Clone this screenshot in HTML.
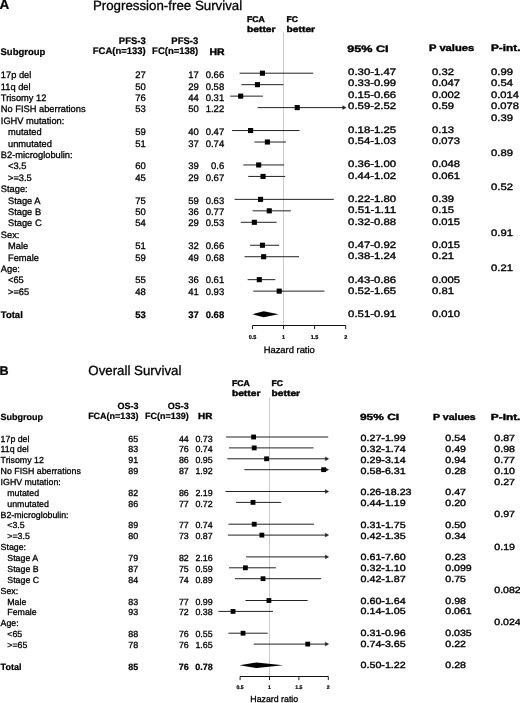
<!DOCTYPE html>
<html><head><meta charset="utf-8"><style>
html,body{margin:0;padding:0;background:#fff;}
body{width:520px;height:703px;overflow:hidden;}
svg{display:block;will-change:transform;}
text{font-family:"Liberation Sans", sans-serif;fill:#000;stroke:#000;stroke-width:0.3px;}
text.v{stroke-width:0.35px;}
text[font-weight="bold"]{stroke-width:0.22px;}
text.vb{stroke-width:0.4px;}
</style></head><body>
<svg width="520" height="703" viewBox="0 0 520 703" text-rendering="geometricPrecision">
<rect width="520" height="703" fill="#fff"/>
<line x1="283.5" y1="32.3" x2="283.5" y2="325.5" stroke="#cccccc" stroke-width="1"/>
<text x="0.80" y="78.20" font-size="9.3">17p del</text>
<text x="145.90" y="78.20" font-size="9.5" text-anchor="end">27</text>
<text x="198.80" y="78.20" font-size="9.5" text-anchor="end">17</text>
<text x="224.20" y="78.20" font-size="9.5" text-anchor="end">0.66</text>
<text x="348.10" y="74.80" font-size="9.4" class="v" textLength="47.99" lengthAdjust="spacingAndGlyphs">0.30-1.47</text>
<text x="432.00" y="74.80" font-size="9.4" class="v" textLength="21.91" lengthAdjust="spacingAndGlyphs">0.32</text>
<text x="491.00" y="74.80" font-size="9.4" class="v" textLength="21.91" lengthAdjust="spacingAndGlyphs">0.99</text>
<line x1="240.05" y1="73.20" x2="312.76" y2="73.20" stroke="#222" stroke-width="1.0" stroke-linecap="square"/>
<rect x="259.87" y="70.65" width="5.1" height="5.1" fill="#000"/>
<text x="0.80" y="89.60" font-size="9.3">11q del</text>
<text x="145.90" y="89.60" font-size="9.5" text-anchor="end">50</text>
<text x="198.80" y="89.60" font-size="9.5" text-anchor="end">29</text>
<text x="224.20" y="89.60" font-size="9.5" text-anchor="end">0.58</text>
<text x="348.10" y="86.34" font-size="9.4" class="v" textLength="47.99" lengthAdjust="spacingAndGlyphs">0.33-0.99</text>
<text x="432.00" y="86.34" font-size="9.4" class="v" textLength="28.05" lengthAdjust="spacingAndGlyphs">0.047</text>
<text x="491.00" y="86.34" font-size="9.4" class="v" textLength="21.91" lengthAdjust="spacingAndGlyphs">0.54</text>
<line x1="241.91" y1="84.67" x2="282.93" y2="84.67" stroke="#222" stroke-width="1.0" stroke-linecap="square"/>
<rect x="254.90" y="82.12" width="5.1" height="5.1" fill="#000"/>
<text x="0.80" y="101.00" font-size="9.3">Trisomy 12</text>
<text x="145.90" y="101.00" font-size="9.5" text-anchor="end">76</text>
<text x="198.80" y="101.00" font-size="9.5" text-anchor="end">44</text>
<text x="224.20" y="101.00" font-size="9.5" text-anchor="end">0.31</text>
<text x="348.10" y="97.88" font-size="9.4" class="v" textLength="47.99" lengthAdjust="spacingAndGlyphs">0.15-0.66</text>
<text x="432.00" y="97.88" font-size="9.4" class="v" textLength="28.05" lengthAdjust="spacingAndGlyphs">0.002</text>
<text x="491.00" y="97.88" font-size="9.4" class="v" textLength="28.05" lengthAdjust="spacingAndGlyphs">0.014</text>
<line x1="230.72" y1="96.14" x2="262.42" y2="96.14" stroke="#222" stroke-width="1.0" stroke-linecap="square"/>
<rect x="238.12" y="93.59" width="5.1" height="5.1" fill="#000"/>
<text x="0.80" y="112.40" font-size="9.3">No FISH aberrations</text>
<text x="145.90" y="112.40" font-size="9.5" text-anchor="end">53</text>
<text x="198.80" y="112.40" font-size="9.5" text-anchor="end">50</text>
<text x="224.20" y="112.40" font-size="9.5" text-anchor="end">1.22</text>
<text x="348.10" y="109.42" font-size="9.4" class="v" textLength="47.99" lengthAdjust="spacingAndGlyphs">0.59-2.52</text>
<text x="432.00" y="109.42" font-size="9.4" class="v" textLength="21.91" lengthAdjust="spacingAndGlyphs">0.59</text>
<text x="491.00" y="109.42" font-size="9.4" class="v" textLength="28.05" lengthAdjust="spacingAndGlyphs">0.078</text>
<line x1="258.07" y1="107.61" x2="344.20" y2="107.61" stroke="#222" stroke-width="1.0" stroke-linecap="square"/>
<path d="M342.70,105.71 L346.10,107.61 L342.70,109.51 Z" fill="#222" stroke="#222" stroke-width="0.4" stroke-linejoin="round"/>
<rect x="294.67" y="105.06" width="5.1" height="5.1" fill="#000"/>
<text x="0.80" y="123.80" font-size="9.3">IGHV mutation:</text>
<text x="491.00" y="120.96" font-size="9.4" class="v" textLength="21.91" lengthAdjust="spacingAndGlyphs">0.39</text>
<text x="8.00" y="135.20" font-size="9.3">mutated</text>
<text x="145.90" y="135.20" font-size="9.5" text-anchor="end">59</text>
<text x="198.80" y="135.20" font-size="9.5" text-anchor="end">40</text>
<text x="224.20" y="135.20" font-size="9.5" text-anchor="end">0.47</text>
<text x="348.10" y="132.50" font-size="9.4" class="v" textLength="47.99" lengthAdjust="spacingAndGlyphs">0.18-1.25</text>
<text x="432.00" y="132.50" font-size="9.4" class="v" textLength="21.91" lengthAdjust="spacingAndGlyphs">0.13</text>
<line x1="232.59" y1="130.55" x2="299.09" y2="130.55" stroke="#222" stroke-width="1.0" stroke-linecap="square"/>
<rect x="248.06" y="128.00" width="5.1" height="5.1" fill="#000"/>
<text x="8.00" y="146.60" font-size="9.3">unmutated</text>
<text x="145.90" y="146.60" font-size="9.5" text-anchor="end">51</text>
<text x="198.80" y="146.60" font-size="9.5" text-anchor="end">37</text>
<text x="224.20" y="146.60" font-size="9.5" text-anchor="end">0.74</text>
<text x="348.10" y="144.04" font-size="9.4" class="v" textLength="47.99" lengthAdjust="spacingAndGlyphs">0.54-1.03</text>
<text x="432.00" y="144.04" font-size="9.4" class="v" textLength="28.05" lengthAdjust="spacingAndGlyphs">0.073</text>
<line x1="254.96" y1="142.02" x2="285.41" y2="142.02" stroke="#222" stroke-width="1.0" stroke-linecap="square"/>
<rect x="264.84" y="139.47" width="5.1" height="5.1" fill="#000"/>
<text x="0.80" y="158.00" font-size="9.3">B2-microglobulin:</text>
<text x="491.00" y="155.58" font-size="9.4" class="v" textLength="21.91" lengthAdjust="spacingAndGlyphs">0.89</text>
<text x="8.00" y="169.40" font-size="9.3">&lt;3.5</text>
<text x="145.90" y="169.40" font-size="9.5" text-anchor="end">60</text>
<text x="198.80" y="169.40" font-size="9.5" text-anchor="end">39</text>
<text x="224.20" y="169.40" font-size="9.5" text-anchor="end">0.6</text>
<text x="348.10" y="167.12" font-size="9.4" class="v" textLength="47.99" lengthAdjust="spacingAndGlyphs">0.36-1.00</text>
<text x="432.00" y="167.12" font-size="9.4" class="v" textLength="28.05" lengthAdjust="spacingAndGlyphs">0.048</text>
<line x1="243.77" y1="164.96" x2="283.55" y2="164.96" stroke="#222" stroke-width="1.0" stroke-linecap="square"/>
<rect x="256.14" y="162.41" width="5.1" height="5.1" fill="#000"/>
<text x="8.00" y="180.80" font-size="9.3">&gt;=3.5</text>
<text x="145.90" y="180.80" font-size="9.5" text-anchor="end">45</text>
<text x="198.80" y="180.80" font-size="9.5" text-anchor="end">29</text>
<text x="224.20" y="180.80" font-size="9.5" text-anchor="end">0.67</text>
<text x="348.10" y="178.66" font-size="9.4" class="v" textLength="47.99" lengthAdjust="spacingAndGlyphs">0.44-1.02</text>
<text x="432.00" y="178.66" font-size="9.4" class="v" textLength="28.05" lengthAdjust="spacingAndGlyphs">0.061</text>
<line x1="248.75" y1="176.43" x2="284.79" y2="176.43" stroke="#222" stroke-width="1.0" stroke-linecap="square"/>
<rect x="260.49" y="173.88" width="5.1" height="5.1" fill="#000"/>
<text x="0.80" y="192.20" font-size="9.3">Stage:</text>
<text x="491.00" y="190.20" font-size="9.4" class="v" textLength="21.91" lengthAdjust="spacingAndGlyphs">0.52</text>
<text x="8.00" y="203.60" font-size="9.3">Stage A</text>
<text x="145.90" y="203.60" font-size="9.5" text-anchor="end">75</text>
<text x="198.80" y="203.60" font-size="9.5" text-anchor="end">59</text>
<text x="224.20" y="203.60" font-size="9.5" text-anchor="end">0.63</text>
<text x="348.10" y="201.74" font-size="9.4" class="v" textLength="47.99" lengthAdjust="spacingAndGlyphs">0.22-1.80</text>
<text x="432.00" y="201.74" font-size="9.4" class="v" textLength="21.91" lengthAdjust="spacingAndGlyphs">0.39</text>
<line x1="235.07" y1="199.37" x2="333.27" y2="199.37" stroke="#222" stroke-width="1.0" stroke-linecap="square"/>
<rect x="258.00" y="196.82" width="5.1" height="5.1" fill="#000"/>
<text x="8.00" y="215.00" font-size="9.3">Stage B</text>
<text x="145.90" y="215.00" font-size="9.5" text-anchor="end">50</text>
<text x="198.80" y="215.00" font-size="9.5" text-anchor="end">36</text>
<text x="224.20" y="215.00" font-size="9.5" text-anchor="end">0.77</text>
<text x="348.10" y="213.28" font-size="9.4" class="v" textLength="47.99" lengthAdjust="spacingAndGlyphs">0.51-1.11</text>
<text x="432.00" y="213.28" font-size="9.4" class="v" textLength="21.91" lengthAdjust="spacingAndGlyphs">0.15</text>
<line x1="253.10" y1="210.84" x2="290.39" y2="210.84" stroke="#222" stroke-width="1.0" stroke-linecap="square"/>
<rect x="266.71" y="208.29" width="5.1" height="5.1" fill="#000"/>
<text x="8.00" y="226.40" font-size="9.3">Stage C</text>
<text x="145.90" y="226.40" font-size="9.5" text-anchor="end">54</text>
<text x="198.80" y="226.40" font-size="9.5" text-anchor="end">29</text>
<text x="224.20" y="226.40" font-size="9.5" text-anchor="end">0.53</text>
<text x="348.10" y="224.82" font-size="9.4" class="v" textLength="47.99" lengthAdjust="spacingAndGlyphs">0.32-0.88</text>
<text x="432.00" y="224.82" font-size="9.4" class="v" textLength="28.05" lengthAdjust="spacingAndGlyphs">0.015</text>
<line x1="241.29" y1="222.31" x2="276.09" y2="222.31" stroke="#222" stroke-width="1.0" stroke-linecap="square"/>
<rect x="251.79" y="219.76" width="5.1" height="5.1" fill="#000"/>
<text x="0.80" y="237.80" font-size="9.3">Sex:</text>
<text x="491.00" y="236.36" font-size="9.4" class="v" textLength="21.91" lengthAdjust="spacingAndGlyphs">0.91</text>
<text x="8.00" y="249.20" font-size="9.3">Male</text>
<text x="145.90" y="249.20" font-size="9.5" text-anchor="end">51</text>
<text x="198.80" y="249.20" font-size="9.5" text-anchor="end">32</text>
<text x="224.20" y="249.20" font-size="9.5" text-anchor="end">0.66</text>
<text x="348.10" y="247.90" font-size="9.4" class="v" textLength="47.99" lengthAdjust="spacingAndGlyphs">0.47-0.92</text>
<text x="432.00" y="247.90" font-size="9.4" class="v" textLength="28.05" lengthAdjust="spacingAndGlyphs">0.015</text>
<line x1="250.61" y1="245.25" x2="278.58" y2="245.25" stroke="#222" stroke-width="1.0" stroke-linecap="square"/>
<rect x="259.87" y="242.70" width="5.1" height="5.1" fill="#000"/>
<text x="8.00" y="260.60" font-size="9.3">Female</text>
<text x="145.90" y="260.60" font-size="9.5" text-anchor="end">59</text>
<text x="198.80" y="260.60" font-size="9.5" text-anchor="end">49</text>
<text x="224.20" y="260.60" font-size="9.5" text-anchor="end">0.68</text>
<text x="348.10" y="259.44" font-size="9.4" class="v" textLength="47.99" lengthAdjust="spacingAndGlyphs">0.38-1.24</text>
<text x="432.00" y="259.44" font-size="9.4" class="v" textLength="21.91" lengthAdjust="spacingAndGlyphs">0.21</text>
<line x1="245.02" y1="256.72" x2="298.47" y2="256.72" stroke="#222" stroke-width="1.0" stroke-linecap="square"/>
<rect x="261.11" y="254.17" width="5.1" height="5.1" fill="#000"/>
<text x="0.80" y="272.00" font-size="9.3">Age:</text>
<text x="491.00" y="270.98" font-size="9.4" class="v" textLength="21.91" lengthAdjust="spacingAndGlyphs">0.21</text>
<text x="8.00" y="283.40" font-size="9.3">&lt;65</text>
<text x="145.90" y="283.40" font-size="9.5" text-anchor="end">55</text>
<text x="198.80" y="283.40" font-size="9.5" text-anchor="end">36</text>
<text x="224.20" y="283.40" font-size="9.5" text-anchor="end">0.61</text>
<text x="348.10" y="282.52" font-size="9.4" class="v" textLength="47.99" lengthAdjust="spacingAndGlyphs">0.43-0.86</text>
<text x="432.00" y="282.52" font-size="9.4" class="v" textLength="28.05" lengthAdjust="spacingAndGlyphs">0.005</text>
<line x1="248.12" y1="279.66" x2="274.85" y2="279.66" stroke="#222" stroke-width="1.0" stroke-linecap="square"/>
<rect x="256.76" y="277.11" width="5.1" height="5.1" fill="#000"/>
<text x="8.00" y="294.80" font-size="9.3">&gt;=65</text>
<text x="145.90" y="294.80" font-size="9.5" text-anchor="end">48</text>
<text x="198.80" y="294.80" font-size="9.5" text-anchor="end">41</text>
<text x="224.20" y="294.80" font-size="9.5" text-anchor="end">0.93</text>
<text x="348.10" y="294.06" font-size="9.4" class="v" textLength="47.99" lengthAdjust="spacingAndGlyphs">0.52-1.65</text>
<text x="432.00" y="294.06" font-size="9.4" class="v" textLength="21.91" lengthAdjust="spacingAndGlyphs">0.81</text>
<line x1="253.72" y1="291.13" x2="323.95" y2="291.13" stroke="#222" stroke-width="1.0" stroke-linecap="square"/>
<rect x="276.65" y="288.58" width="5.1" height="5.1" fill="#000"/>
<text x="0.80" y="317.60" font-size="9.5" font-weight="bold">Total</text>
<text x="145.90" y="317.60" font-size="9.5" font-weight="bold" text-anchor="end">53</text>
<text x="198.80" y="317.60" font-size="9.5" font-weight="bold" text-anchor="end">37</text>
<text x="224.20" y="317.60" font-size="9.5" font-weight="bold" text-anchor="end">0.68</text>
<text x="348.10" y="317.14" font-size="9.4" class="v" textLength="47.99" lengthAdjust="spacingAndGlyphs">0.51-0.91</text>
<text x="432.00" y="317.14" font-size="9.4" class="v" textLength="28.05" lengthAdjust="spacingAndGlyphs">0.010</text>
<polygon points="252.50,314.27 263.66,311.17 278.56,314.27 263.66,317.37" fill="#000"/>
<text x="145.80" y="43.80" font-size="9.5" font-weight="bold" text-anchor="end">PFS-3</text>
<text x="145.80" y="53.90" font-size="9.5" font-weight="bold" text-anchor="end">FCA(n=133)</text>
<text x="198.30" y="43.80" font-size="9.5" font-weight="bold" text-anchor="end">PFS-3</text>
<text x="198.30" y="53.90" font-size="9.5" font-weight="bold" text-anchor="end">FC(n=138)</text>
<text x="0.50" y="54.90" font-size="9.5" font-weight="bold">Subgroup</text>
<text x="209.40" y="54.50" font-size="9.4" font-weight="bold" class="vb" textLength="15.11" lengthAdjust="spacingAndGlyphs">HR</text>
<text x="347.20" y="51.50" font-size="9.4" font-weight="bold" class="vb" textLength="41.43" lengthAdjust="spacingAndGlyphs">95% CI</text>
<text x="429.00" y="51.30" font-size="9.4" font-weight="bold" class="vb" textLength="45.30" lengthAdjust="spacingAndGlyphs">P values</text>
<text x="491.00" y="51.30" font-size="9.4" font-weight="bold" class="vb" textLength="29.43" lengthAdjust="spacingAndGlyphs">P-int.</text>
<text x="247.00" y="21.90" font-size="8.3" font-weight="bold" class="vb" textLength="17.80" lengthAdjust="spacingAndGlyphs">FCA</text>
<text x="247.00" y="32.00" font-size="8.3" font-weight="bold" class="vb" textLength="28.50" lengthAdjust="spacingAndGlyphs">better</text>
<text x="286.60" y="21.90" font-size="8.3" font-weight="bold" class="vb" textLength="11.37" lengthAdjust="spacingAndGlyphs">FC</text>
<text x="286.60" y="32.00" font-size="8.3" font-weight="bold" class="vb" textLength="28.50" lengthAdjust="spacingAndGlyphs">better</text>
<line x1="252.47" y1="325.5" x2="345.70" y2="325.5" stroke="#111" stroke-width="1"/>
<line x1="252.47" y1="325.5" x2="252.47" y2="329.1" stroke="#000" stroke-width="0.9"/>
<text x="252.47" y="338.80" font-size="5.5" font-weight="bold" text-anchor="middle">0.5</text>
<line x1="283.55" y1="325.5" x2="283.55" y2="329.1" stroke="#000" stroke-width="0.9"/>
<text x="283.55" y="338.80" font-size="5.5" font-weight="bold" text-anchor="middle">1</text>
<line x1="314.62" y1="325.5" x2="314.62" y2="329.1" stroke="#000" stroke-width="0.9"/>
<text x="314.62" y="338.80" font-size="5.5" font-weight="bold" text-anchor="middle">1.5</text>
<line x1="345.70" y1="325.5" x2="345.70" y2="329.1" stroke="#000" stroke-width="0.9"/>
<text x="345.70" y="338.80" font-size="5.5" font-weight="bold" text-anchor="middle">2</text>
<text x="263.70" y="352.80" font-size="9.4">Hazard ratio</text>
<text x="-0.50" y="9.20" font-size="13.5" font-weight="bold">A</text>
<text x="92.90" y="9.60" font-size="13.3">Progression-free Survival</text>
<line x1="269.5" y1="397.7" x2="269.5" y2="676.5" stroke="#cccccc" stroke-width="1"/>
<text x="0.60" y="441.60" font-size="8.8">17p del</text>
<text x="138.20" y="441.60" font-size="8.9" text-anchor="end">65</text>
<text x="188.80" y="441.60" font-size="8.9" text-anchor="end">44</text>
<text x="212.70" y="441.60" font-size="8.9" text-anchor="end">0.73</text>
<text x="360.50" y="441.40" font-size="8.9" class="v" textLength="45.25" lengthAdjust="spacingAndGlyphs">0.27-1.99</text>
<text x="445.30" y="441.40" font-size="8.9" class="v" textLength="20.67" lengthAdjust="spacingAndGlyphs">0.54</text>
<text x="494.30" y="441.40" font-size="8.9" class="v" textLength="20.67" lengthAdjust="spacingAndGlyphs">0.87</text>
<line x1="226.58" y1="437.00" x2="327.71" y2="437.00" stroke="#222" stroke-width="1.0" stroke-linecap="square"/>
<rect x="251.22" y="434.60" width="4.8" height="4.8" fill="#000"/>
<text x="0.60" y="452.46" font-size="8.8">11q del</text>
<text x="138.20" y="452.46" font-size="8.9" text-anchor="end">83</text>
<text x="188.80" y="452.46" font-size="8.9" text-anchor="end">76</text>
<text x="212.70" y="452.46" font-size="8.9" text-anchor="end">0.74</text>
<text x="360.50" y="452.21" font-size="8.9" class="v" textLength="45.25" lengthAdjust="spacingAndGlyphs">0.32-1.74</text>
<text x="445.30" y="452.21" font-size="8.9" class="v" textLength="20.67" lengthAdjust="spacingAndGlyphs">0.49</text>
<text x="494.30" y="452.21" font-size="8.9" class="v" textLength="20.67" lengthAdjust="spacingAndGlyphs">0.98</text>
<line x1="229.52" y1="447.90" x2="313.01" y2="447.90" stroke="#222" stroke-width="1.0" stroke-linecap="square"/>
<rect x="251.81" y="445.50" width="4.8" height="4.8" fill="#000"/>
<text x="0.60" y="463.32" font-size="8.8">Trisomy 12</text>
<text x="138.20" y="463.32" font-size="8.9" text-anchor="end">91</text>
<text x="188.80" y="463.32" font-size="8.9" text-anchor="end">86</text>
<text x="212.70" y="463.32" font-size="8.9" text-anchor="end">0.95</text>
<text x="360.50" y="463.02" font-size="8.9" class="v" textLength="45.25" lengthAdjust="spacingAndGlyphs">0.29-3.14</text>
<text x="445.30" y="463.02" font-size="8.9" class="v" textLength="20.67" lengthAdjust="spacingAndGlyphs">0.94</text>
<text x="494.30" y="463.02" font-size="8.9" class="v" textLength="20.67" lengthAdjust="spacingAndGlyphs">0.77</text>
<line x1="227.75" y1="458.80" x2="326.80" y2="458.80" stroke="#222" stroke-width="1.0" stroke-linecap="square"/>
<path d="M325.30,456.90 L328.70,458.80 L325.30,460.70 Z" fill="#222" stroke="#222" stroke-width="0.4" stroke-linejoin="round"/>
<rect x="264.16" y="456.40" width="4.8" height="4.8" fill="#000"/>
<text x="0.60" y="474.18" font-size="8.8">No FISH aberrations</text>
<text x="138.20" y="474.18" font-size="8.9" text-anchor="end">89</text>
<text x="188.80" y="474.18" font-size="8.9" text-anchor="end">87</text>
<text x="212.70" y="474.18" font-size="8.9" text-anchor="end">1.92</text>
<text x="360.50" y="473.83" font-size="8.9" class="v" textLength="45.25" lengthAdjust="spacingAndGlyphs">0.58-6.31</text>
<text x="445.30" y="473.83" font-size="8.9" class="v" textLength="20.67" lengthAdjust="spacingAndGlyphs">0.28</text>
<text x="494.30" y="473.83" font-size="8.9" class="v" textLength="20.67" lengthAdjust="spacingAndGlyphs">0.10</text>
<line x1="244.80" y1="469.70" x2="326.80" y2="469.70" stroke="#222" stroke-width="1.0" stroke-linecap="square"/>
<path d="M325.30,467.80 L328.70,469.70 L325.30,471.60 Z" fill="#222" stroke="#222" stroke-width="0.4" stroke-linejoin="round"/>
<rect x="321.20" y="467.30" width="4.8" height="4.8" fill="#000"/>
<text x="0.60" y="485.04" font-size="8.8">IGHV mutation:</text>
<text x="494.30" y="484.64" font-size="8.9" class="v" textLength="20.67" lengthAdjust="spacingAndGlyphs">0.27</text>
<text x="7.30" y="495.90" font-size="8.8">mutated</text>
<text x="138.20" y="495.90" font-size="8.9" text-anchor="end">82</text>
<text x="188.80" y="495.90" font-size="8.9" text-anchor="end">86</text>
<text x="212.70" y="495.90" font-size="8.9" text-anchor="end">2.19</text>
<text x="360.50" y="495.45" font-size="8.9" class="v" textLength="51.04" lengthAdjust="spacingAndGlyphs">0.26-18.23</text>
<text x="445.30" y="495.45" font-size="8.9" class="v" textLength="20.67" lengthAdjust="spacingAndGlyphs">0.47</text>
<line x1="225.99" y1="491.50" x2="326.80" y2="491.50" stroke="#222" stroke-width="1.0" stroke-linecap="square"/>
<path d="M325.30,489.60 L328.70,491.50 L325.30,493.40 Z" fill="#222" stroke="#222" stroke-width="0.4" stroke-linejoin="round"/>
<text x="7.30" y="506.76" font-size="8.8">unmutated</text>
<text x="138.20" y="506.76" font-size="8.9" text-anchor="end">86</text>
<text x="188.80" y="506.76" font-size="8.9" text-anchor="end">77</text>
<text x="212.70" y="506.76" font-size="8.9" text-anchor="end">0.72</text>
<text x="360.50" y="506.26" font-size="8.9" class="v" textLength="45.25" lengthAdjust="spacingAndGlyphs">0.44-1.19</text>
<text x="445.30" y="506.26" font-size="8.9" class="v" textLength="20.67" lengthAdjust="spacingAndGlyphs">0.20</text>
<line x1="236.57" y1="502.40" x2="280.67" y2="502.40" stroke="#222" stroke-width="1.0" stroke-linecap="square"/>
<rect x="250.64" y="500.00" width="4.8" height="4.8" fill="#000"/>
<text x="0.60" y="517.62" font-size="8.8">B2-microglobulin:</text>
<text x="494.30" y="517.07" font-size="8.9" class="v" textLength="20.67" lengthAdjust="spacingAndGlyphs">0.97</text>
<text x="7.30" y="528.48" font-size="8.8">&lt;3.5</text>
<text x="138.20" y="528.48" font-size="8.9" text-anchor="end">89</text>
<text x="188.80" y="528.48" font-size="8.9" text-anchor="end">77</text>
<text x="212.70" y="528.48" font-size="8.9" text-anchor="end">0.74</text>
<text x="360.50" y="527.88" font-size="8.9" class="v" textLength="45.25" lengthAdjust="spacingAndGlyphs">0.31-1.75</text>
<text x="445.30" y="527.88" font-size="8.9" class="v" textLength="20.67" lengthAdjust="spacingAndGlyphs">0.50</text>
<line x1="228.93" y1="524.20" x2="313.60" y2="524.20" stroke="#222" stroke-width="1.0" stroke-linecap="square"/>
<rect x="251.81" y="521.80" width="4.8" height="4.8" fill="#000"/>
<text x="7.30" y="539.34" font-size="8.8">&gt;=3.5</text>
<text x="138.20" y="539.34" font-size="8.9" text-anchor="end">80</text>
<text x="188.80" y="539.34" font-size="8.9" text-anchor="end">73</text>
<text x="212.70" y="539.34" font-size="8.9" text-anchor="end">0.87</text>
<text x="360.50" y="538.69" font-size="8.9" class="v" textLength="45.25" lengthAdjust="spacingAndGlyphs">0.42-1.35</text>
<text x="445.30" y="538.69" font-size="8.9" class="v" textLength="20.67" lengthAdjust="spacingAndGlyphs">0.34</text>
<line x1="228.34" y1="535.10" x2="326.80" y2="535.10" stroke="#222" stroke-width="1.0" stroke-linecap="square"/>
<path d="M325.30,533.20 L328.70,535.10 L325.30,537.00 Z" fill="#222" stroke="#222" stroke-width="0.4" stroke-linejoin="round"/>
<rect x="259.46" y="532.70" width="4.8" height="4.8" fill="#000"/>
<text x="0.60" y="550.20" font-size="8.8">Stage:</text>
<text x="494.30" y="549.50" font-size="8.9" class="v" textLength="20.67" lengthAdjust="spacingAndGlyphs">0.19</text>
<text x="7.30" y="561.06" font-size="8.8">Stage A</text>
<text x="138.20" y="561.06" font-size="8.9" text-anchor="end">79</text>
<text x="188.80" y="561.06" font-size="8.9" text-anchor="end">82</text>
<text x="212.70" y="561.06" font-size="8.9" text-anchor="end">2.16</text>
<text x="360.50" y="560.31" font-size="8.9" class="v" textLength="45.25" lengthAdjust="spacingAndGlyphs">0.61-7.60</text>
<text x="445.30" y="560.31" font-size="8.9" class="v" textLength="20.67" lengthAdjust="spacingAndGlyphs">0.23</text>
<line x1="246.57" y1="556.90" x2="326.80" y2="556.90" stroke="#222" stroke-width="1.0" stroke-linecap="square"/>
<path d="M325.30,555.00 L328.70,556.90 L325.30,558.80 Z" fill="#222" stroke="#222" stroke-width="0.4" stroke-linejoin="round"/>
<text x="7.30" y="571.92" font-size="8.8">Stage B</text>
<text x="138.20" y="571.92" font-size="8.9" text-anchor="end">87</text>
<text x="188.80" y="571.92" font-size="8.9" text-anchor="end">75</text>
<text x="212.70" y="571.92" font-size="8.9" text-anchor="end">0.59</text>
<text x="360.50" y="571.12" font-size="8.9" class="v" textLength="45.25" lengthAdjust="spacingAndGlyphs">0.32-1.10</text>
<text x="445.30" y="571.12" font-size="8.9" class="v" textLength="26.45" lengthAdjust="spacingAndGlyphs">0.099</text>
<line x1="229.52" y1="567.80" x2="275.38" y2="567.80" stroke="#222" stroke-width="1.0" stroke-linecap="square"/>
<rect x="242.99" y="565.40" width="4.8" height="4.8" fill="#000"/>
<text x="7.30" y="582.78" font-size="8.8">Stage C</text>
<text x="138.20" y="582.78" font-size="8.9" text-anchor="end">84</text>
<text x="188.80" y="582.78" font-size="8.9" text-anchor="end">74</text>
<text x="212.70" y="582.78" font-size="8.9" text-anchor="end">0.89</text>
<text x="360.50" y="581.93" font-size="8.9" class="v" textLength="45.25" lengthAdjust="spacingAndGlyphs">0.42-1.87</text>
<text x="445.30" y="581.93" font-size="8.9" class="v" textLength="20.67" lengthAdjust="spacingAndGlyphs">0.75</text>
<line x1="235.40" y1="578.70" x2="320.66" y2="578.70" stroke="#222" stroke-width="1.0" stroke-linecap="square"/>
<rect x="260.63" y="576.30" width="4.8" height="4.8" fill="#000"/>
<text x="0.60" y="593.64" font-size="8.8">Sex:</text>
<text x="494.30" y="592.74" font-size="8.9" class="v" textLength="26.45" lengthAdjust="spacingAndGlyphs">0.082</text>
<text x="7.30" y="604.50" font-size="8.8">Male</text>
<text x="138.20" y="604.50" font-size="8.9" text-anchor="end">83</text>
<text x="188.80" y="604.50" font-size="8.9" text-anchor="end">77</text>
<text x="212.70" y="604.50" font-size="8.9" text-anchor="end">0.99</text>
<text x="360.50" y="603.55" font-size="8.9" class="v" textLength="45.25" lengthAdjust="spacingAndGlyphs">0.60-1.64</text>
<text x="445.30" y="603.55" font-size="8.9" class="v" textLength="20.67" lengthAdjust="spacingAndGlyphs">0.98</text>
<line x1="245.98" y1="600.50" x2="307.13" y2="600.50" stroke="#222" stroke-width="1.0" stroke-linecap="square"/>
<rect x="266.51" y="598.10" width="4.8" height="4.8" fill="#000"/>
<text x="7.30" y="615.36" font-size="8.8">Female</text>
<text x="138.20" y="615.36" font-size="8.9" text-anchor="end">93</text>
<text x="188.80" y="615.36" font-size="8.9" text-anchor="end">72</text>
<text x="212.70" y="615.36" font-size="8.9" text-anchor="end">0.38</text>
<text x="360.50" y="614.36" font-size="8.9" class="v" textLength="45.25" lengthAdjust="spacingAndGlyphs">0.14-1.05</text>
<text x="445.30" y="614.36" font-size="8.9" class="v" textLength="26.45" lengthAdjust="spacingAndGlyphs">0.061</text>
<line x1="218.93" y1="611.40" x2="272.44" y2="611.40" stroke="#222" stroke-width="1.0" stroke-linecap="square"/>
<rect x="230.64" y="609.00" width="4.8" height="4.8" fill="#000"/>
<text x="0.60" y="626.22" font-size="8.8">Age:</text>
<text x="494.30" y="625.17" font-size="8.9" class="v" textLength="26.45" lengthAdjust="spacingAndGlyphs">0.024</text>
<text x="7.30" y="637.08" font-size="8.8">&lt;65</text>
<text x="138.20" y="637.08" font-size="8.9" text-anchor="end">88</text>
<text x="188.80" y="637.08" font-size="8.9" text-anchor="end">76</text>
<text x="212.70" y="637.08" font-size="8.9" text-anchor="end">0.55</text>
<text x="360.50" y="635.98" font-size="8.9" class="v" textLength="45.25" lengthAdjust="spacingAndGlyphs">0.31-0.96</text>
<text x="445.30" y="635.98" font-size="8.9" class="v" textLength="26.45" lengthAdjust="spacingAndGlyphs">0.035</text>
<line x1="228.93" y1="633.20" x2="267.15" y2="633.20" stroke="#222" stroke-width="1.0" stroke-linecap="square"/>
<rect x="240.64" y="630.80" width="4.8" height="4.8" fill="#000"/>
<text x="7.30" y="647.94" font-size="8.8">&gt;=65</text>
<text x="138.20" y="647.94" font-size="8.9" text-anchor="end">78</text>
<text x="188.80" y="647.94" font-size="8.9" text-anchor="end">76</text>
<text x="212.70" y="647.94" font-size="8.9" text-anchor="end">1.65</text>
<text x="360.50" y="646.79" font-size="8.9" class="v" textLength="45.25" lengthAdjust="spacingAndGlyphs">0.74-3.65</text>
<text x="445.30" y="646.79" font-size="8.9" class="v" textLength="20.67" lengthAdjust="spacingAndGlyphs">0.22</text>
<line x1="254.21" y1="644.10" x2="326.80" y2="644.10" stroke="#222" stroke-width="1.0" stroke-linecap="square"/>
<path d="M325.30,642.20 L328.70,644.10 L325.30,646.00 Z" fill="#222" stroke="#222" stroke-width="0.4" stroke-linejoin="round"/>
<rect x="305.32" y="641.70" width="4.8" height="4.8" fill="#000"/>
<text x="0.60" y="669.66" font-size="9.0" font-weight="bold">Total</text>
<text x="138.20" y="669.66" font-size="9.0" font-weight="bold" text-anchor="end">85</text>
<text x="188.80" y="669.66" font-size="9.0" font-weight="bold" text-anchor="end">76</text>
<text x="212.70" y="669.66" font-size="9.0" font-weight="bold" text-anchor="end">0.78</text>
<text x="360.50" y="668.41" font-size="8.9" class="v" textLength="45.25" lengthAdjust="spacingAndGlyphs">0.50-1.22</text>
<text x="445.30" y="668.41" font-size="8.9" class="v" textLength="20.67" lengthAdjust="spacingAndGlyphs">0.28</text>
<polygon points="239.50,665.30 256.56,662.50 283.04,665.30 256.56,668.10" fill="#000"/>
<text x="138.40" y="408.80" font-size="9.0" font-weight="bold" text-anchor="end">OS-3</text>
<text x="138.40" y="419.10" font-size="9.0" font-weight="bold" text-anchor="end">FCA(n=133)</text>
<text x="188.70" y="408.80" font-size="9.0" font-weight="bold" text-anchor="end">OS-3</text>
<text x="188.70" y="419.10" font-size="9.0" font-weight="bold" text-anchor="end">FC(n=139)</text>
<text x="0.50" y="419.60" font-size="9.0" font-weight="bold">Subgroup</text>
<text x="198.10" y="419.30" font-size="8.9" font-weight="bold" class="vb" textLength="14.30" lengthAdjust="spacingAndGlyphs">HR</text>
<text x="360.00" y="419.60" font-size="8.9" font-weight="bold" class="vb" textLength="39.06" lengthAdjust="spacingAndGlyphs">95% CI</text>
<text x="433.00" y="419.60" font-size="8.9" font-weight="bold" class="vb" textLength="42.71" lengthAdjust="spacingAndGlyphs">P values</text>
<text x="490.80" y="419.60" font-size="8.9" font-weight="bold" class="vb" textLength="29.59" lengthAdjust="spacingAndGlyphs">P-Int.</text>
<text x="231.90" y="385.80" font-size="8.3" font-weight="bold" class="vb" textLength="17.80" lengthAdjust="spacingAndGlyphs">FCA</text>
<text x="231.90" y="396.10" font-size="8.3" font-weight="bold" class="vb" textLength="28.50" lengthAdjust="spacingAndGlyphs">better</text>
<text x="271.60" y="385.80" font-size="8.3" font-weight="bold" class="vb" textLength="11.37" lengthAdjust="spacingAndGlyphs">FC</text>
<text x="271.60" y="396.10" font-size="8.3" font-weight="bold" class="vb" textLength="28.50" lengthAdjust="spacingAndGlyphs">better</text>
<line x1="240.10" y1="676.5" x2="328.30" y2="676.5" stroke="#111" stroke-width="1"/>
<line x1="240.10" y1="676.5" x2="240.10" y2="680.1" stroke="#000" stroke-width="0.9"/>
<text x="240.10" y="689.30" font-size="5.2" font-weight="bold" text-anchor="middle">0.5</text>
<line x1="269.50" y1="676.5" x2="269.50" y2="680.1" stroke="#000" stroke-width="0.9"/>
<text x="269.50" y="689.30" font-size="5.2" font-weight="bold" text-anchor="middle">1</text>
<line x1="298.90" y1="676.5" x2="298.90" y2="680.1" stroke="#000" stroke-width="0.9"/>
<text x="298.90" y="689.30" font-size="5.2" font-weight="bold" text-anchor="middle">1.5</text>
<line x1="328.30" y1="676.5" x2="328.30" y2="680.1" stroke="#000" stroke-width="0.9"/>
<text x="328.30" y="689.30" font-size="5.2" font-weight="bold" text-anchor="middle">2</text>
<text x="250.30" y="702.00" font-size="8.8">Hazard ratio</text>
<text x="-0.50" y="375.00" font-size="12.6" font-weight="bold">B</text>
<text x="88.30" y="374.80" font-size="13.3">Overall Survival</text>
</svg>
</body></html>
